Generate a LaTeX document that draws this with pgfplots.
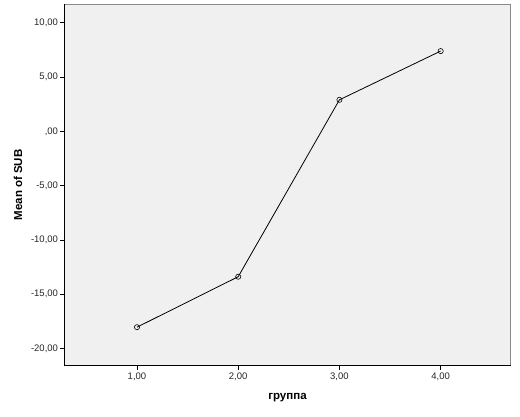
\documentclass[border=0pt]{standalone}
\usepackage{pgfplots}
\pgfplotsset{compat=1.18}
\usepackage{fontspec}
\setmainfont{Liberation Sans}
\definecolor{bgc}{HTML}{F0F0F0}
\definecolor{frm}{HTML}{8A8A8A}
\begin{document}
\begin{tikzpicture}[x=1pt,y=1pt]
\path[use as bounding box] (0,0) rectangle (520,416);
\begin{axis}[
  at={(64.5pt,50.3pt)}, anchor=south west,
  scale only axis, width=446pt, height=361.7pt,
  xmin=0.284, xmax=4.69, ymin=-21.6, ymax=11.73,
  axis background/.style={fill=bgc},
  axis line style={frm, line width=0.9pt},
  xtick={1,2,3,4}, xticklabels={{1,00},{2,00},{3,00},{4,00}},
  ytick={-20,-15,-10,-5,0,5,10},
  yticklabels={{-20,00},{-15,00},{-10,00},{-5,00},{,00},{5,00},{10,00}},
  tick align=outside, tick pos=left,
  major tick length=4pt,
  tick style={black, line width=0.6pt},
  ticklabel style={font=\fontsize{9.5}{11}\selectfont, text=black!85},
  yticklabel style={xshift=1pt},
  xlabel={\bfseries группа}, ylabel={\bfseries Mean of SUB},
  label style={font=\fontsize{11.5}{13}\selectfont},
  xlabel style={at={(axis description cs:0.5,-0.089)}, anchor=center},
  ylabel style={at={(axis description cs:-0.104,0.5)}, anchor=center, rotate=0},
  clip=false,
]
\draw[black, line width=1pt] (rel axis cs:0,1) -- (rel axis cs:0,0) -- (rel axis cs:1,0);
\addplot[black, line width=0.8pt, mark=o, mark size=2.6pt, mark options={line width=0.6pt, fill=none}]
  coordinates {(1,-18.05) (2,-13.4) (3,2.9) (4,7.39)};
\end{axis}
\end{tikzpicture}
\end{document}
